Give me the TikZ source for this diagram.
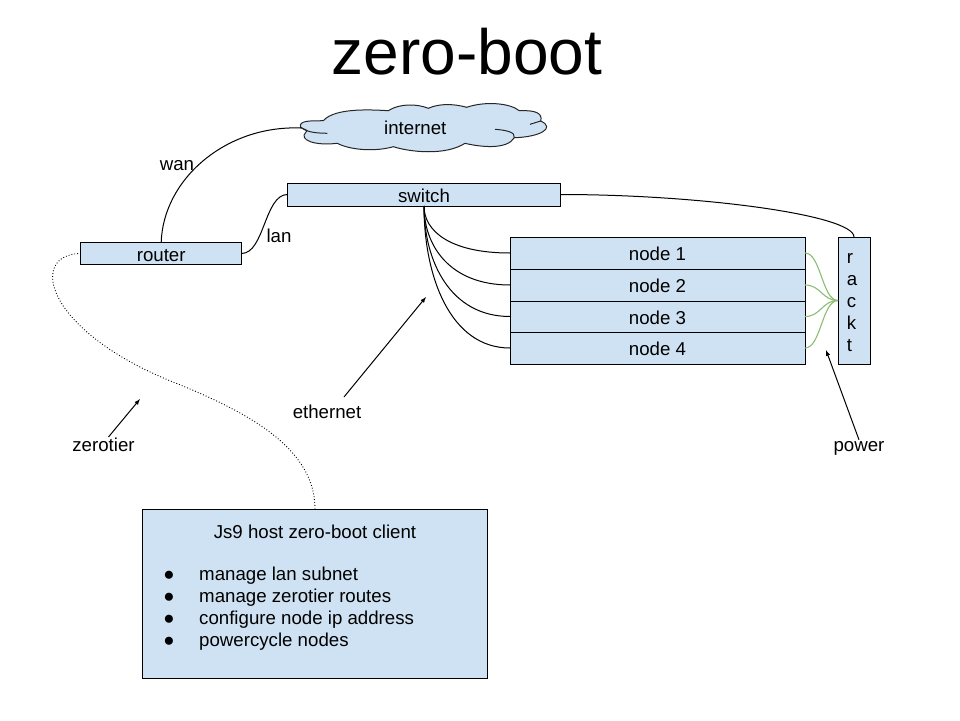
\documentclass[tikz,border=0pt]{standalone}
\usepackage{fontspec}
\setmainfont{Liberation Sans}
\definecolor{boxblue}{HTML}{CFE2F3}
\definecolor{powergreen}{HTML}{8ABD72}
\tikzset{
  box/.style={draw=black, fill=boxblue, line width=1pt, inner sep=0pt, outer sep=0pt, text height=15pt, text depth=0pt, font=\fontsize{18.67}{22}\selectfont},
  lbl/.style={inner sep=1pt, font=\fontsize{18.67}{22}\selectfont},
  wire/.style={black, line width=1pt},
  powerwire/.style={powergreen, line width=1.1pt},
  pointer/.style={-latex, black, line width=1pt}
}
\begin{document}
\begin{tikzpicture}[x=1pt,y=-1pt]
      \useasboundingbox (0,0) rectangle (960,720);
      \node[lbl, font=\fontsize{64}{70}\selectfont] (title) at (467,52) {zero-boot};
      % cloud outline
      \draw[fill=boxblue, draw=black!85, line width=1pt]
        (300.7,127.3) .. controls (298,120) and (312,121) .. (323.3,120.7)
        .. controls (335,107) and (375,110) .. (388.3,110.7)
        .. controls (400,103) and (418,104) .. (428.3,108.3)
        .. controls (440,103) and (455,104) .. (466.7,107.3)
        .. controls (485,101) and (510,103) .. (519.3,110.7)
        .. controls (535,110) and (543,113) .. (540.7,121)
        .. controls (556,128) and (540,137) .. (514.3,137.7)
        .. controls (507,150) and (480,147) .. (465,143.3)
        .. controls (445,156) and (410,152) .. (393.3,146.7)
        .. controls (375,152) and (350,150) .. (337.3,143.3)
        .. controls (315,146) and (298,140) .. (306,132)
        .. controls (310,130) and (302,129) .. cycle;
      \draw[black!85, line width=1pt] (300.7,127.3) .. controls (308,133) and (318,133) .. (327.3,133.3);
      \draw[black!85, line width=1pt] (495,129.3) .. controls (505,130) and (516,132) .. (514.3,137.7);
      \draw[black!85, line width=1pt] (530,124.3) -- (540.7,121);
      \node[lbl, minimum width=229pt, minimum height=44pt, inner sep=0pt, outer sep=0pt] (internet) at (415.3,128) {internet};
      % boxes
      \node[box, minimum width=273pt, minimum height=23pt] (switch) at (424,194.5) {switch};
      \node[box, minimum width=160.5pt, minimum height=22pt] (router) at (161.2,253.5) {router};
      \node[box, minimum width=295pt, minimum height=32pt] (node1) at (657.5,253) {node 1};
      \node[box, minimum width=295pt, minimum height=32pt] (node2) at (657.5,285) {node 2};
      \node[box, minimum width=295pt, minimum height=31pt] (node3) at (657.5,316.5) {node 3};
      \node[box, minimum width=295pt, minimum height=32pt] (node4) at (657.5,348) {node 4};
      \node[box, minimum width=32pt, minimum height=127pt] (rack) at (854,300.5) {};
      \node[lbl, align=left] (rackname) at (852,302.5) {r\\a\\c\\k\\t};
      \node[box, minimum width=345pt, minimum height=169pt] (client) at (315,593.5) {};
      \node[lbl] (clientname) at (315,531.5) {Js9 host zero-boot client};
      \foreach \y/\txt in {576/manage lan subnet, 598/manage zerotier routes, 620/configure node ip address, 642/powercycle nodes} {
        \node[lbl] (bullet\y) at (169,\y) {●};
        \node[lbl, anchor=west] (item\y) at (198,\y) {\txt};
      }
      % labels
      \node[lbl] (wan) at (177,165.5) {wan};
      \node[lbl] (lan) at (279,236) {lan};
      \node[lbl] (ethernet) at (327,412) {ethernet};
      \node[lbl] (zerotier) at (103.5,445) {zerotier};
      \node[lbl] (power) at (859,448) {power};
      % connectors
      \draw[wire] (router.north) .. controls (163,180) and (225,125) .. (internet.west);
      \draw[wire] (router.east) .. controls +(23,0) and +(-23,0) .. (switch.west);
      \draw[wire] (switch.east) .. controls (700,194.5) and (854,215) .. (rack.north);
      \foreach \i in {1,...,4} {
        \draw[wire] (switch.south) .. controls +(0,10+15*\i) and +(-60,0) .. (node\i.west);
        \draw[powerwire] (node\i.east) .. controls +(16,0) and +(-16,0) .. (rack.west);
      }
      \coordinate (ztbend) at (173,382);
      \draw[black, line width=.9pt, dotted] (router.west) .. controls (28,254) and (44,330) .. (ztbend)
        .. controls (253,414) and (315,450) .. (client.north);
      % pointers
      \coordinate (ethernettip) at (426,297);
      \coordinate (zerotiertip) at (140,399);
      \coordinate (powertip) at (826,350);
      \draw[pointer] ([xshift=17pt,yshift=7pt]ethernet.north) -- (ethernettip);
      \draw[pointer] ([xshift=5pt]zerotier.north) -- (zerotiertip);
      \draw[pointer] (power.north) -- (powertip);
    \end{tikzpicture}
\end{document}
